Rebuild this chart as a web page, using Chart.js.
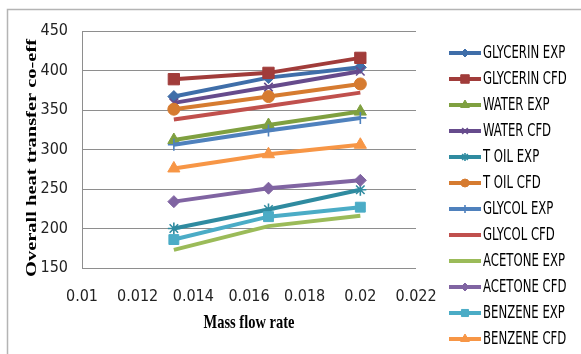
<!DOCTYPE html>
<html>
<head>
<meta charset="utf-8">
<script src="https://cdn.jsdelivr.net/npm/chart.js@4"></script>
<style>
  html, body { margin: 0; padding: 0; background: #ffffff; }
  #wrap { width: 581px; height: 354px; }
</style>
</head>
<body>
<div id="wrap"><canvas id="chart" width="581" height="354"></canvas></div>
<script>
// Mass flow rate (kg/s) at the three test points
const massFlow = [0.0133, 0.0167, 0.02];

// Overall heat transfer coefficient, experiment vs CFD
const glycerinExp = [367, 391, 404];
const glycerinCfd = [389, 397, 416];
const waterExp    = [312, 331, 348];
const waterCfd    = [359, 379, 399];
const tOilExp     = [200, 224, 249];
const tOilCfd     = [351, 367, 383];
const glycolExp   = [306, 324, 340];
const glycolCfd   = [338, 355, 372];
const acetoneExp  = [173, 203, 216];
const acetoneCfd  = [234, 251, 261];
const benzeneExp  = [186, 215, 227];
const benzeneCfd  = [276, 294, 306];

const seriesNames = [
  'GLYCERIN EXP', 'GLYCERIN CFD', 'WATER EXP', 'WATER CFD', 'T OIL EXP', 'T OIL CFD',
  'GLYCOL EXP', 'GLYCOL CFD', 'ACETONE EXP', 'ACETONE CFD', 'BENZENE EXP', 'BENZENE CFD'
];
const seriesValues = [
  glycerinExp, glycerinCfd, waterExp, waterCfd, tOilExp, tOilCfd,
  glycolExp, glycolCfd, acetoneExp, acetoneCfd, benzeneExp, benzeneCfd
];

// Axis ticks
const xTicks = [0.01, 0.012, 0.014, 0.016, 0.018, 0.02, 0.022];
const xTickLabels = ['0.01', '0.012', '0.014', '0.016', '0.018', '0.02', '0.022'];
const yTicks = [150, 200, 250, 300, 350, 400, 450];
const yTickLabels = ['150', '200', '250', '300', '350', '400', '450'];

// Styling per series
const colors = [
  '#3F6EA9', '#A13C3A', '#7FA040', '#664B8C', '#2F8BA0', '#D67B30',
  '#4F81BD', '#C0504D', '#9BBB59', '#8064A2', '#4BACC6', '#F79646'
];
const markers = [
  { style: 'rectRot', r: 6 },
  { style: 'rect', r: 8 },
  { style: 'triangle', r: 7 },
  { style: 'crossRot', r: 6 },
  { style: 'star', r: 6 },
  { style: 'circle', r: 6 },
  { style: 'cross', r: 6 },
  { style: false, r: 0 },
  { style: false, r: 0 },
  { style: 'rectRot', r: 6 },
  { style: 'rect', r: 7 },
  { style: 'triangle', r: 7 }
];

const datasets = seriesNames.map((name, i) => ({
  label: name,
  data: massFlow.map((x, k) => ({ x: x, y: seriesValues[i][k] })),
  borderColor: colors[i],
  backgroundColor: colors[i],
  borderWidth: 4,
  pointStyle: markers[i].style,
  pointRadius: markers[i].r,
  pointBorderWidth: (markers[i].style === 'cross' || markers[i].style === 'crossRot' || markers[i].style === 'star') ? 1.6 : 1,
  pointBackgroundColor: colors[i],
  pointBorderColor: colors[i],
  tension: 0,
  order: seriesNames.length - i
}));

const PLOT_LEFT = 82, PLOT_RIGHT = 416, PLOT_TOP = 31, PLOT_BOTTOM = 268;
const W = 581, H = 354;

// Draws frame, axis titles and the legend on the canvas
const decorations = {
  id: 'decorations',
  beforeDraw(chart) {
    const ctx = chart.ctx;
    ctx.save();
    ctx.fillStyle = '#ffffff';
    ctx.fillRect(0, 0, W, H);
    ctx.strokeStyle = '#b4b4b4';
    ctx.lineWidth = 1.5;
    ctx.strokeRect(7.5, 9.5, 600, 400);
    ctx.restore();
  },
  afterDraw(chart) {
    const ctx = chart.ctx;
    ctx.save();
    ctx.fillStyle = '#000000';
    ctx.textAlign = 'center';
    ctx.textBaseline = 'middle';

    // x-axis title
    ctx.save();
    ctx.translate(249, 323);
    ctx.scale(1, 1.3);
    ctx.font = 'bold 14.5px "Liberation Serif", "Times New Roman", serif';
    ctx.fillText('Mass flow rate', 0, 0);
    ctx.restore();

    // y-axis title
    ctx.save();
    ctx.translate(32, 158);
    ctx.rotate(-Math.PI / 2);
    ctx.scale(1.32, 1);
    ctx.font = 'bold 15.5px "Liberation Serif", "Times New Roman", serif';
    ctx.fillText('Overall heat transfer co-eff', 0, 0);
    ctx.restore();

    // legend
    const lx0 = 449, lx1 = 481, tx = 483, y0 = 53, step = 26.0;
    chart.data.datasets.forEach((ds, i) => {
      const y = y0 + i * step;
      ctx.strokeStyle = ds.borderColor;
      ctx.lineWidth = 4;
      ctx.beginPath();
      ctx.moveTo(lx0, y);
      ctx.lineTo(lx1, y);
      ctx.stroke();
      if (ds.pointStyle) {
        ctx.fillStyle = ds.borderColor;
        ctx.strokeStyle = ds.borderColor;
        ctx.lineWidth = ds.pointBorderWidth;
        Chart.helpers.drawPoint(ctx, {
          pointStyle: ds.pointStyle,
          radius: Math.max(3, ds.pointRadius - 2),
          rotation: 0,
          borderWidth: ds.pointBorderWidth
        }, (lx0 + lx1) / 2, y);
      }
      ctx.save();
      ctx.translate(tx, y + 0.5);
      ctx.scale(1, 1.35);
      ctx.fillStyle = '#000000';
      ctx.textAlign = 'left';
      ctx.textBaseline = 'middle';
      ctx.font = '13px "Liberation Sans Narrow", "DejaVu Sans Condensed", sans-serif';
      ctx.fillText(ds.label, 0, 0);
      ctx.restore();
    });
    ctx.restore();
  }
};

new Chart(document.getElementById('chart'), {
  type: 'line',
  data: { datasets: datasets },
  options: {
    responsive: false,
    animation: false,
    devicePixelRatio: 1,
    layout: { padding: { left: 0, top: PLOT_TOP, right: W - PLOT_RIGHT, bottom: 0 } },
    plugins: {
      legend: { display: false },
      tooltip: { enabled: false }
    },
    scales: {
      x: {
        type: 'linear',
        min: 0.01,
        max: 0.022,
        afterBuildTicks(scale) { scale.ticks = xTicks.map(v => ({ value: v })); },
        afterFit(scale) { scale.height = H - PLOT_BOTTOM; },
        grid: { display: false, drawTicks: false },
        border: { display: false },
        ticks: {
          padding: 19,
          color: '#222222',
          font: { family: '"Liberation Sans Narrow", "DejaVu Sans Condensed", sans-serif', size: 16 },
          maxRotation: 0,
          callback: (v, idx) => xTickLabels[idx]
        }
      },
      y: {
        type: 'linear',
        min: 150,
        max: 450,
        afterBuildTicks(scale) { scale.ticks = yTicks.map(v => ({ value: v })); },
        afterFit(scale) { scale.width = PLOT_LEFT; },
        grid: { color: '#8e8e8e', lineWidth: 1, drawTicks: false },
        border: { display: true, color: '#8e8e8e', width: 1 },
        ticks: {
          padding: 14,
          color: '#222222',
          font: { family: '"Liberation Sans Narrow", "DejaVu Sans Condensed", sans-serif', size: 16 },
          callback: (v, idx) => yTickLabels[idx]
        }
      }
    }
  },
  plugins: [decorations]
});
</script>
</body>
</html>
